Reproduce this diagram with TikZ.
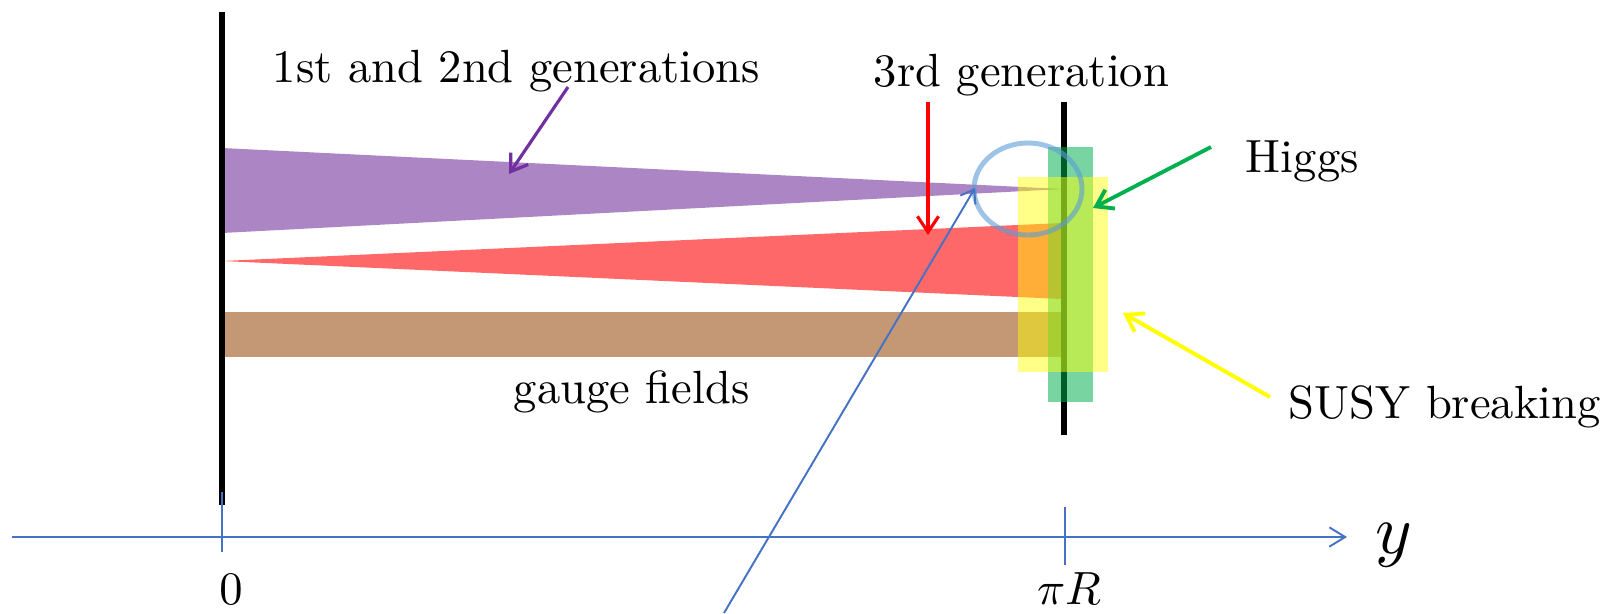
\documentclass[tikz,border=0pt]{standalone}
\usetikzlibrary{arrows.meta}
\definecolor{bandpurple}{RGB}{172,133,197}
\definecolor{bandred}{RGB}{255,104,104}
\definecolor{bandbrown}{RGB}{196,152,116}
\definecolor{higgsgreen}{RGB}{0,176,80}
\definecolor{susyyellow}{RGB}{255,255,0}
\definecolor{arrowpurple}{RGB}{112,48,160}
\definecolor{axisblue}{RGB}{68,114,196}
\definecolor{circblue}{RGB}{91,155,213}
\begin{document}
\begin{tikzpicture}[x=0.02cm, y=-0.02cm,
  lbl/.style={inner sep=0pt, scale=2.65},
  pointer/.style={line width=1.8pt, -{Straight Barb[length=9pt,width=12pt]}},
  axisline/.style={axisblue, line width=1.1pt},
  brane/.style={line width=3.2pt}]
  \useasboundingbox (0,0) rectangle (1605,613);
  % Bulk profiles
  \fill[bandpurple] (222,148) -- (1063,189) -- (222,233) -- cycle;
  \fill[bandred] (222,261) -- (1062,223) -- (1062,299) -- cycle;
  \fill[bandbrown] (222,312) rectangle (1062,357);
  % Branes at 0 and pi R
  \draw[brane] (222,12) -- (222,505);
  \draw[brane] (1064,102) -- (1064,435);
  % Higgs and SUSY breaking on the brane
  \fill[higgsgreen, opacity=0.53] (1048,147) rectangle (1093,402);
  \fill[susyyellow, opacity=0.47] (1018,177) rectangle (1108,372);
  \draw[circblue, draw opacity=0.6, line width=2.8pt] (1028,189) ellipse [x radius=54, y radius=46];
  % Labels
  \node[lbl, anchor=base west] (gen12) at (272,82) {1st and 2nd generations};
  \node[lbl, anchor=base west] (gen3) at (873,86) {3rd generation};
  \node[lbl, anchor=base west] (higgs) at (1245,172) {Higgs};
  \node[lbl, anchor=base west] (susy) at (1288,418) {SUSY breaking};
  \node[lbl, anchor=base west] (gauge) at (513,403) {gauge fields};
  % Pointers
  \coordinate (gen12tail) at (568,87);  \coordinate (gen12tip) at (509,174);
  \coordinate (gen3tail) at (928,102);  \coordinate (gen3tip) at (928,235);
  \coordinate (higgstail) at (1211,147); \coordinate (higgstip) at (1093,208);
  \coordinate (susytail) at (1270,397); \coordinate (susytip) at (1123,313);
  \draw[pointer, arrowpurple] (gen12tail) -- (gen12tip);
  \draw[pointer, red] (gen3tail) -- (gen3tip);
  \draw[pointer, higgsgreen, line width=2.2pt] (higgstail) -- (higgstip);
  \draw[pointer, susyyellow, line width=2.2pt] (susytail) -- (susytip);
  % Extra dimension axis
  \coordinate (axstart) at (12,537);
  \coordinate (axend) at (1347,537);
  \draw[axisline, -{Straight Barb[length=9pt,width=11pt]}] (axstart) -- (axend);
  \draw[axisline, line width=0.9pt] (222,492) -- (222,552);
  \draw[axisline, line width=0.9pt] (1065,507) -- (1065,565);
  \node[lbl, anchor=base] (zero) at (231,604) {$0$};
  \node[lbl, anchor=base] (piR) at (1069,604) {$\pi R$};
  \node[lbl, scale=1.5, anchor=base west] (ycoord) at (1374,553) {$y$};
  % Zoom pointer
  \coordinate (zoomtail) at (724,613);
  \coordinate (zoomtip) at (975,188);
  \draw[axisline, -{Straight Barb[length=7pt,width=10pt]}] (zoomtail) -- (zoomtip);
\end{tikzpicture}
\end{document}
